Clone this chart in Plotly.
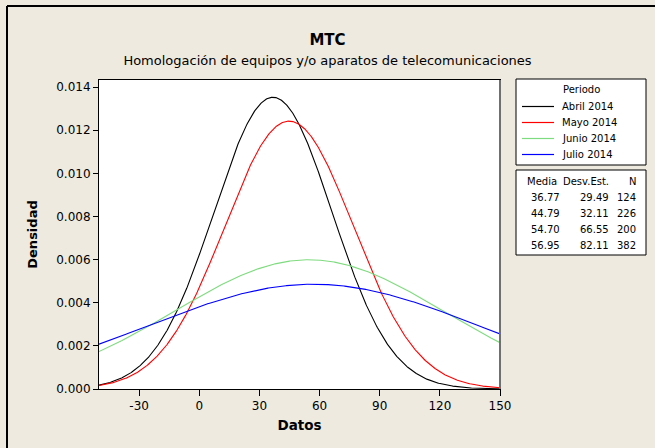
import numpy as np
import plotly.graph_objects as go

# ---- data ----
periods = ["Abril 2014", "Mayo 2014", "Junio 2014", "Julio 2014"]
means = [36.77, 44.79, 54.70, 56.95]
stdevs = [29.49, 32.11, 66.55, 82.11]
counts = [124, 226, 200, 382]
colors = ["#000000", "#FF0000", "#7FDB7F", "#0000FF"]
x_ticks = [-30, 0, 30, 60, 90, 120, 150]
y_ticks = [0.000, 0.002, 0.004, 0.006, 0.008, 0.010, 0.012, 0.014]

W, H = 655, 448
ML, MR, MT, MB = 99, 155, 80, 59
PW, PH = W - ML - MR, H - MT - MB

def px(xp):
    return (xp - ML) / PW

def py(yp):
    return 1 - (yp - MT) / PH

FONT = "DejaVu Sans"
BG = "#EEEAE0"
LEG_FS = 10

xs = np.linspace(-50, 150, 801)
fig = go.Figure()
for name, m, s, c in zip(periods, means, stdevs, colors):
    dens = np.exp(-0.5 * ((xs - m) / s) ** 2) / (s * np.sqrt(2 * np.pi))
    fig.add_trace(go.Scatter(x=xs, y=dens, mode="lines", name=name,
                             line=dict(color=c, width=1.1), showlegend=False))

fig.update_layout(
    width=W, height=H,
    margin=dict(l=ML, r=MR, t=MT, b=MB, autoexpand=False),
    paper_bgcolor=BG, plot_bgcolor="white",
    font=dict(family=FONT, size=12, color="black"),
    title=dict(text="<b>MTC</b><br><span style='font-size:13px'>Homologación de equipos y/o aparatos de telecomunicaciones</span>",
               x=0.5, xanchor="center", y=1 - 45 / H, yanchor="top",
               font=dict(size=15)),
    showlegend=False,
)
fig.update_xaxes(range=[-50, 150], tickvals=x_ticks, ticktext=[str(v) for v in x_ticks],
                 ticks="outside", ticklen=6, tickcolor="black",
                 showline=True, linecolor="black", linewidth=1, mirror=True,
                 showgrid=False, zeroline=False,
                 title=dict(text="<b>Datos</b>", standoff=8, font=dict(size=13.5)),
                 tickfont=dict(size=12))
fig.update_yaxes(range=[0, 0.01433], tickvals=y_ticks, ticktext=[f"{v:.3f}" for v in y_ticks],
                 ticks="outside", ticklen=5, tickcolor="black",
                 showline=True, linecolor="black", linewidth=1, mirror=True,
                 showgrid=False, zeroline=False,
                 title=dict(text="<b>Densidad</b>", standoff=15, font=dict(size=13)),
                 tickfont=dict(size=12))

shapes = []
# outer frame (top and left)
shapes.append(dict(type="line", xref="paper", yref="paper", x0=px(7), x1=px(W + 5), y0=py(6), y1=py(6),
                   line=dict(color="black", width=2)))
shapes.append(dict(type="line", xref="paper", yref="paper", x0=px(7), x1=px(7), y0=py(6), y1=py(H + 5),
                   line=dict(color="black", width=2)))
# right border of plot area in gray
shapes.append(dict(type="line", xref="paper", yref="paper", x0=1, x1=1, y0=0, y1=1,
                   line=dict(color="#707070", width=2)))
# legend box
shapes.append(dict(type="rect", xref="paper", yref="paper", x0=px(516), x1=px(646), y0=py(79), y1=py(165),
                   fillcolor="white", line=dict(color="black", width=1), layer="below"))
# stats table box
shapes.append(dict(type="rect", xref="paper", yref="paper", x0=px(516), x1=px(646), y0=py(170), y1=py(255),
                   fillcolor="white", line=dict(color="black", width=1), layer="below"))

annots = []
annots.append(dict(text="Periodo", x=px(581), y=py(90), xref="paper", yref="paper",
                   xanchor="center", yanchor="middle", showarrow=False, font=dict(size=LEG_FS)))
leg_y0, leg_dy = 106.5, 16
for i, (name, c) in enumerate(zip(periods, colors)):
    yy = py(leg_y0 + leg_dy * i)
    shapes.append(dict(type="line", xref="paper", yref="paper", x0=px(522), x1=px(554), y0=yy, y1=yy,
                       line=dict(color=c, width=1.2)))
    annots.append(dict(text=name, x=px(560), y=yy, xref="paper", yref="paper",
                       xanchor="left", yanchor="middle", showarrow=False, font=dict(size=LEG_FS)))

header_y = 181
row_h = 16.2
cols = [("Media", 525, "left"), ("Desv.Est.", 611, "right"), ("N", 638, "right")]
for text, xp, al in cols:
    annots.append(dict(text=text, x=px(xp), y=py(header_y), xref="paper", yref="paper",
                       xanchor=al, yanchor="middle", showarrow=False, font=dict(size=LEG_FS)))
for i, (m, s, n) in enumerate(zip(means, stdevs, counts)):
    yy = py(header_y + row_h * (i + 1))
    annots.append(dict(text=f"{m:.2f}", x=px(529), y=yy, xref="paper", yref="paper",
                       xanchor="left", yanchor="middle", showarrow=False, font=dict(size=LEG_FS)))
    annots.append(dict(text=f"{s:.2f}", x=px(611), y=yy, xref="paper", yref="paper",
                       xanchor="right", yanchor="middle", showarrow=False, font=dict(size=LEG_FS)))
    annots.append(dict(text=f"{n}", x=px(638), y=yy, xref="paper", yref="paper",
                       xanchor="right", yanchor="middle", showarrow=False, font=dict(size=LEG_FS)))
fig.update_layout(annotations=annots, shapes=shapes)

fig.write_html("out.html", config={"displayModeBar": False},
               post_script="document.body.style.margin='0';document.body.style.padding='0';")
